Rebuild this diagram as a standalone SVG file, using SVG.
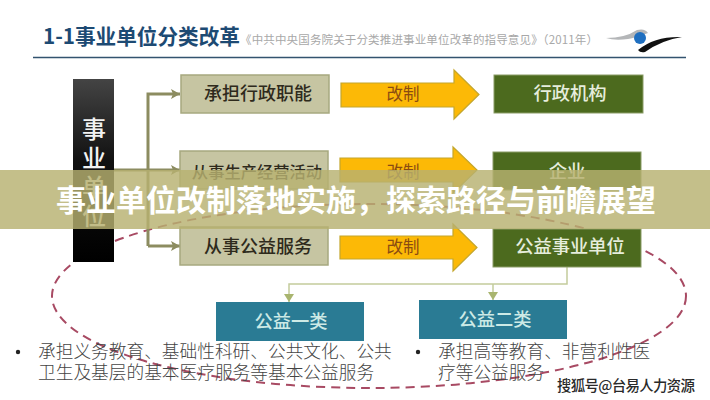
<svg xmlns="http://www.w3.org/2000/svg" width="710" height="400" viewBox="0 0 710 400">
<defs>
<style>
text{font-family:"Noto Sans CJK SC","Noto Sans",sans-serif}
.c{text-anchor:middle}
.tan{fill:#c6c5a2;stroke:#a6a87f;stroke-width:1.5}
.grn{fill:#4c6a1e;stroke:#8a9c66;stroke-width:1}
.teal{fill:#2a7b94}
.arr{fill:#fcb906;stroke:#c4a62c;stroke-width:1.2}
.dk{fill:#2e2a1c;font-size:18px;font-weight:500}
.lt{fill:#e6eddc;font-size:18.3px;font-weight:500}
.tl{fill:#cdeae6;font-size:18.3px;font-weight:500}
.gz{fill:#8a4b12;font-size:16.5px}
.blk{fill:#f2f2f2;font-size:24px;font-weight:500}
.body{fill:#444;font-size:17.7px;font-weight:300}
.conn{fill:none;stroke:#8c8c60;stroke-width:3}
.thin{fill:none;stroke:#c3cc9c;stroke-width:1.5}
</style>
<linearGradient id="bk" x1="0" y1="0" x2="0" y2="1"><stop offset="0" stop-color="#444"/><stop offset=".45" stop-color="#111"/><stop offset="1" stop-color="#000"/></linearGradient>
<marker id="a1" markerUnits="userSpaceOnUse" markerWidth="10" markerHeight="12" refX="9" refY="6" orient="auto"><path d="M0 1L9 6L0 11L2 6Z" fill="#8c8c60"/></marker>
<marker id="a2" markerUnits="userSpaceOnUse" markerWidth="10" markerHeight="10" refX="8" refY="5" orient="auto"><path d="M0 0L8 5L0 10Z" fill="#a9b56f"/></marker>
</defs>
<rect width="710" height="400" fill="#fff"/>
<g id="header">
<text x="43" y="44" font-size="21" font-weight="700" fill="#1d4a73" textLength="197" lengthAdjust="spacingAndGlyphs">1-1事业单位分类改革</text>
<text x="240" y="44" font-size="11.5" fill="#a8a8a8" textLength="358" lengthAdjust="spacing">《中共中央国务院关于分类推进事业单位改革的指导意见》（2011年）</text>
<line x1="33" y1="57.5" x2="686" y2="57.5" stroke="#33536f" stroke-width="1.5"/>
</g>
<g id="logo">
<path d="M606 38Q625 38 637 30Q645 28 648 33Q635 38 628 39Q615 41 606 38Z" fill="#b4b6b8"/>
<circle cx="640" cy="38" r="6" fill="#1f6fc0"/>
<path d="M638 50Q655 36 682 37Q662 40 645 52Q640 53 638 50Z" fill="#111"/>
</g>
<ellipse id="dash-ellipse" cx="369" cy="296" rx="317" ry="92" fill="none" stroke="#a84a63" stroke-width="2" stroke-dasharray="9 6"/>
<g id="connectors">
<path class="conn" d="M148 246V94H180" marker-end="url(#a1)"/>
<path class="conn" d="M114 170H180" marker-end="url(#a1)"/>
<path class="conn" d="M148 246H180" marker-end="url(#a1)"/>
<path class="thin" d="M567 267V284H289V302" marker-end="url(#a2)"/>
<path class="thin" d="M493 284V300" marker-end="url(#a2)"/>
</g>
<g id="node-shiye">
<rect x="73" y="79" width="41" height="183" fill="url(#bk)"/>
<text class="blk c" x="94" y="138">事</text>
<text class="blk c" x="94" y="167">业</text>
<text class="blk c" x="94" y="196">单</text>
<text class="blk c" x="94" y="225">位</text>
</g>
<g id="node-r1a"><rect class="tan" x="181" y="75" width="148" height="38"/><text class="dk c" x="258" y="100">承担行政职能</text></g>
<g id="node-r2a"><rect class="tan" x="180" y="151" width="148" height="38"/><text class="dk c" x="257" y="178" style="font-size:16.3px">从事生产经营活动</text></g>
<g id="node-r3a"><rect class="tan" x="180" y="227" width="148" height="38"/><text class="dk c" x="258" y="253">从事公益服务</text></g>
<g id="arrow-1"><path class="arr" d="M341 83H454V70L479 94.500L454 119V107H341Z"/><text class="gz c" x="403" y="100">改制</text></g>
<g id="arrow-2"><path class="arr" d="M340 158H453V147L477 170L453 193V182H340Z"/><text class="gz c" x="403" y="178">改制</text></g>
<g id="arrow-3"><path class="arr" d="M340 236H453V224L477 247.500L453 271V259H340Z"/><text class="gz c" x="403" y="253">改制</text></g>
<g id="node-r1c"><rect class="grn" x="494" y="75" width="149" height="38"/><text class="lt c" x="570" y="100">行政机构</text></g>
<g id="node-r2c"><rect class="grn" x="493" y="152" width="148" height="38"/><text class="lt c" x="567" y="178">企业</text></g>
<g id="node-r3c"><rect class="grn" x="493" y="229" width="148" height="38"/><text class="lt c" x="570" y="253">公益事业单位</text></g>
<g id="node-t1"><rect class="teal" x="216" y="302" width="148" height="39"/><text class="tl c" x="291" y="328">公益一类</text></g>
<g id="node-t2"><rect class="teal" x="419" y="300" width="148" height="39"/><text class="tl c" x="495" y="326">公益二类</text></g>
<g id="body-left">
<circle cx="18" cy="352" r="2.200" fill="#222"/>
<text class="body" x="38" y="358">承担义务教育、基础性科研、公共文化、公共</text>
<text class="body" x="38" y="379">卫生及基层的基本医疗服务等基本公益服务</text>
</g>
<g id="body-right">
<circle cx="418" cy="352" r="2.200" fill="#222"/>
<text class="body" x="438" y="358">承担高等教育、非营利性医</text>
<text class="body" x="438" y="379">疗等公益服务</text>
</g>
<text x="557" y="391" font-size="14.500" font-weight="500" fill="#2a2a2a" stroke="#fff" stroke-width="2.500" paint-order="stroke" textLength="138">搜狐号@台易人力资源</text>
<rect id="banner" x="0" y="170" width="710" height="59" fill="#b7b170" fill-opacity=".82"/>
<text class="c" x="356" y="211" font-size="30" font-weight="700" fill="#fff">事业单位改制落地实施，探索路径与前瞻展望</text>
</svg>
